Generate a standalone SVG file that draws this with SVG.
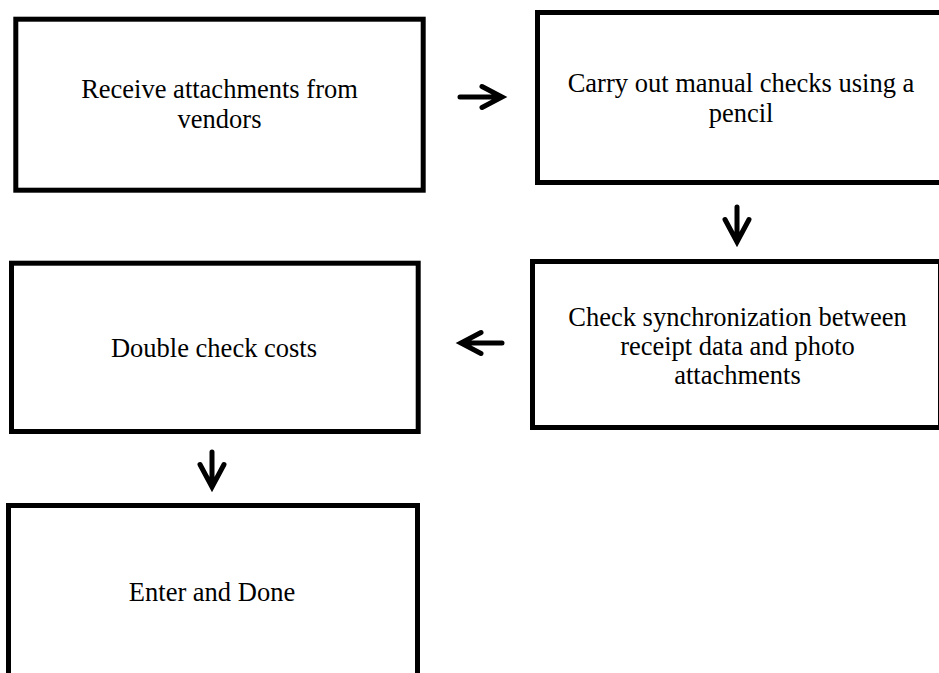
<svg xmlns="http://www.w3.org/2000/svg" width="939" height="673" viewBox="0 0 939 673">
  <style>
    .box { fill: #ffffff; stroke: #000000; stroke-width: 5; }
    .label { font-family: "Liberation Serif", "Times New Roman", serif; font-size: 26.5px; fill: #000000; text-anchor: middle; }
    .arrow { fill: none; stroke: #000000; stroke-width: 5; stroke-linecap: round; stroke-linejoin: miter; }
  </style>
  <rect width="939" height="673" fill="#ffffff"/>

  <g id="receive">
    <rect class="box" x="15.8" y="19.2" width="407.4" height="171"/>
    <text class="label" x="219.5" y="97.5">Receive attachments from</text>
    <text class="label" x="219.5" y="127.5">vendors</text>
  </g>

  <g id="manual-checks">
    <rect class="box" x="537.5" y="12.5" width="410" height="170"/>
    <text class="label" x="741" y="91.5">Carry out manual checks using a</text>
    <text class="label" x="741" y="121.5">pencil</text>
  </g>

  <g id="sync-check">
    <rect class="box" x="532.5" y="261.5" width="408" height="166"/>
    <text class="label" x="737.5" y="325.5">Check synchronization between</text>
    <text class="label" x="737.5" y="354.5">receipt data and photo</text>
    <text class="label" x="737.5" y="383.5">attachments</text>
  </g>

  <g id="double-check">
    <rect class="box" x="11.5" y="263.2" width="406.7" height="168.3"/>
    <text class="label" x="214" y="356.5">Double check costs</text>
  </g>

  <g id="enter-done">
    <rect class="box" x="8.5" y="505.5" width="409" height="220"/>
    <text class="label" x="212" y="601">Enter and Done</text>
  </g>

  <g id="connectors">
    <!-- receive -> manual checks -->
    <path class="arrow" d="M460,97 H501 M482,86.5 L502,97 L482,107.5"/>
    <!-- manual checks -> sync check -->
    <path class="arrow" d="M737,207 V241 M725,219.5 L737,242 L749,219.5"/>
    <!-- sync check -> double check -->
    <path class="arrow" d="M502,343 H461 M481,332.5 L461,343 L481,353.5"/>
    <!-- double check -> enter and done -->
    <path class="arrow" d="M212,452 V486 M200,464.5 L212,487 L224,464.5"/>
  </g>
</svg>
